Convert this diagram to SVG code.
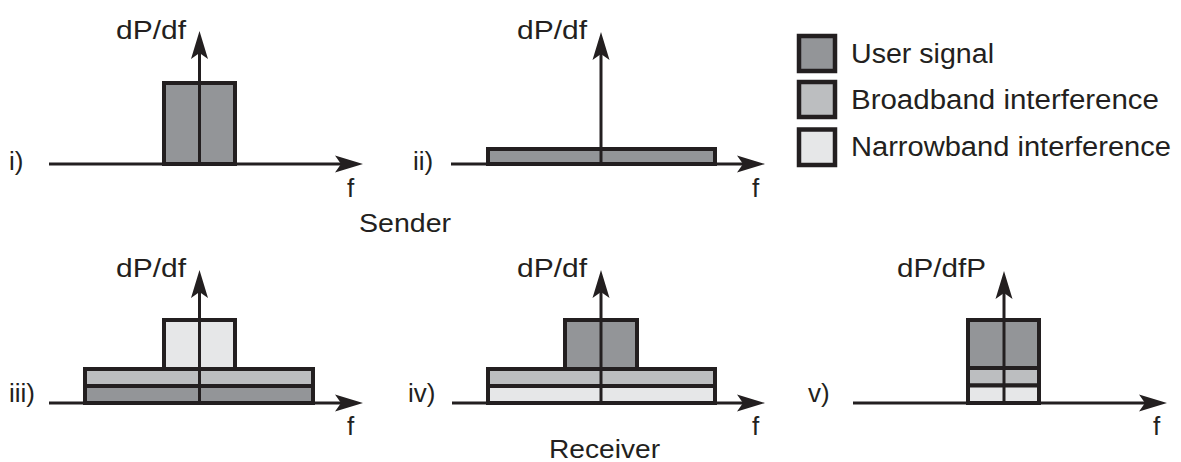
<svg xmlns="http://www.w3.org/2000/svg" width="1181" height="462" viewBox="0 0 1181 462">
<style>
text{font-family:"Liberation Sans",Arial,Helvetica,sans-serif;fill:#231f20;font-size:26px}
.leg{font-size:27px}
.ax{stroke:#231f20;stroke-width:3;fill:none}
.box{stroke:#231f20;stroke-width:4;stroke-linejoin:miter}
.lbox{stroke:#231f20;stroke-width:4.5}
.div{stroke:#231f20;stroke-width:4}
.user{fill:#939598}
.broad{fill:#bcbec0}
.narrow{fill:#e6e7e8}
</style>
<defs>
<marker id="ah" markerUnits="userSpaceOnUse" orient="auto" refX="0" refY="0" markerWidth="30" markerHeight="20" overflow="visible">
<path d="M20,0 L-8,-8.5 L-2,0 L-8,8.5 Z" fill="#231f20"/>
</marker>
</defs>
<rect width="1181" height="462" fill="#ffffff"/>

<g id="panel-i">
<rect class="box user" x="164" y="83" width="71" height="81"/>
<text x="9" y="170">i)</text>
<text x="116" y="39" textLength="70" lengthAdjust="spacingAndGlyphs">dP/df</text>
<text x="347" y="197">f</text>
</g>

<g id="panel-ii">
<rect class="box user" x="488" y="149" width="227" height="15"/>
<text x="413" y="170">ii)</text>
<text x="517" y="39" textLength="70" lengthAdjust="spacingAndGlyphs">dP/df</text>
<text x="752" y="197">f</text>
</g>

<text id="sender" x="359" y="232" textLength="92" lengthAdjust="spacingAndGlyphs">Sender</text>

<g id="panel-iii">
<rect class="box narrow" x="164" y="320" width="71" height="49"/>
<rect class="box broad" x="85" y="369" width="228" height="17"/>
<rect class="box user" x="85" y="386" width="228" height="17"/>
<text x="9" y="402">iii)</text>
<text x="116" y="277" textLength="70" lengthAdjust="spacingAndGlyphs">dP/df</text>
<text x="347" y="435">f</text>
</g>

<g id="panel-iv">
<rect class="box user" x="565" y="320" width="72" height="49"/>
<rect class="box broad" x="488" y="369" width="227" height="17"/>
<rect class="box narrow" x="488" y="386" width="227" height="17"/>
<text x="408" y="402">iv)</text>
<text x="517" y="277" textLength="70" lengthAdjust="spacingAndGlyphs">dP/df</text>
<text x="752" y="435">f</text>
</g>

<text id="receiver" x="549" y="458" textLength="111" lengthAdjust="spacingAndGlyphs">Receiver</text>

<g id="panel-v">
<rect class="box user" x="968" y="320" width="71" height="48"/>
<rect class="box broad" x="968" y="368" width="71" height="17.5"/>
<rect class="box narrow" x="968" y="385.5" width="71" height="17.5"/>
<line class="div" x1="968" y1="368" x2="1039" y2="368" stroke-width="5"/>
<text x="808" y="402">v)</text>
<text x="897" y="277" textLength="89" lengthAdjust="spacingAndGlyphs">dP/dfP</text>
<text x="1153" y="435">f</text>
</g>

<g id="axes">
<line class="ax" x1="49" y1="164" x2="343" y2="164" marker-end="url(#ah)"/>
<line class="ax" x1="199.5" y1="164" x2="199.5" y2="51" marker-end="url(#ah)"/>
<line class="ax" x1="451" y1="164" x2="745" y2="164" marker-end="url(#ah)"/>
<line class="ax" x1="601" y1="164" x2="601" y2="52" marker-end="url(#ah)"/>
<line class="ax" x1="49" y1="403" x2="343" y2="403" marker-end="url(#ah)"/>
<line class="ax" x1="199.5" y1="403" x2="199.5" y2="290" marker-end="url(#ah)"/>
<line class="ax" x1="452" y1="403" x2="745" y2="403" marker-end="url(#ah)"/>
<line class="ax" x1="601" y1="403" x2="601" y2="290" marker-end="url(#ah)"/>
<line class="ax" x1="853" y1="403" x2="1147" y2="403" marker-end="url(#ah)"/>
<line class="ax" x1="1004" y1="403" x2="1004" y2="291" marker-end="url(#ah)"/>
</g>

<g id="legend">
<g id="legend-user">
<rect class="lbox user" x="799" y="36" width="36" height="35"/>
<text class="leg" x="851" y="63" textLength="143" lengthAdjust="spacingAndGlyphs">User signal</text>
</g>
<g id="legend-broad">
<rect class="lbox broad" x="799" y="82" width="36" height="35"/>
<text class="leg" x="851" y="109" textLength="308" lengthAdjust="spacingAndGlyphs">Broadband interference</text>
</g>
<g id="legend-narrow">
<rect class="lbox narrow" x="799" y="129.5" width="36" height="35.5"/>
<text class="leg" x="851" y="156" textLength="320" lengthAdjust="spacingAndGlyphs">Narrowband interference</text>
</g>
</g>
</svg>
